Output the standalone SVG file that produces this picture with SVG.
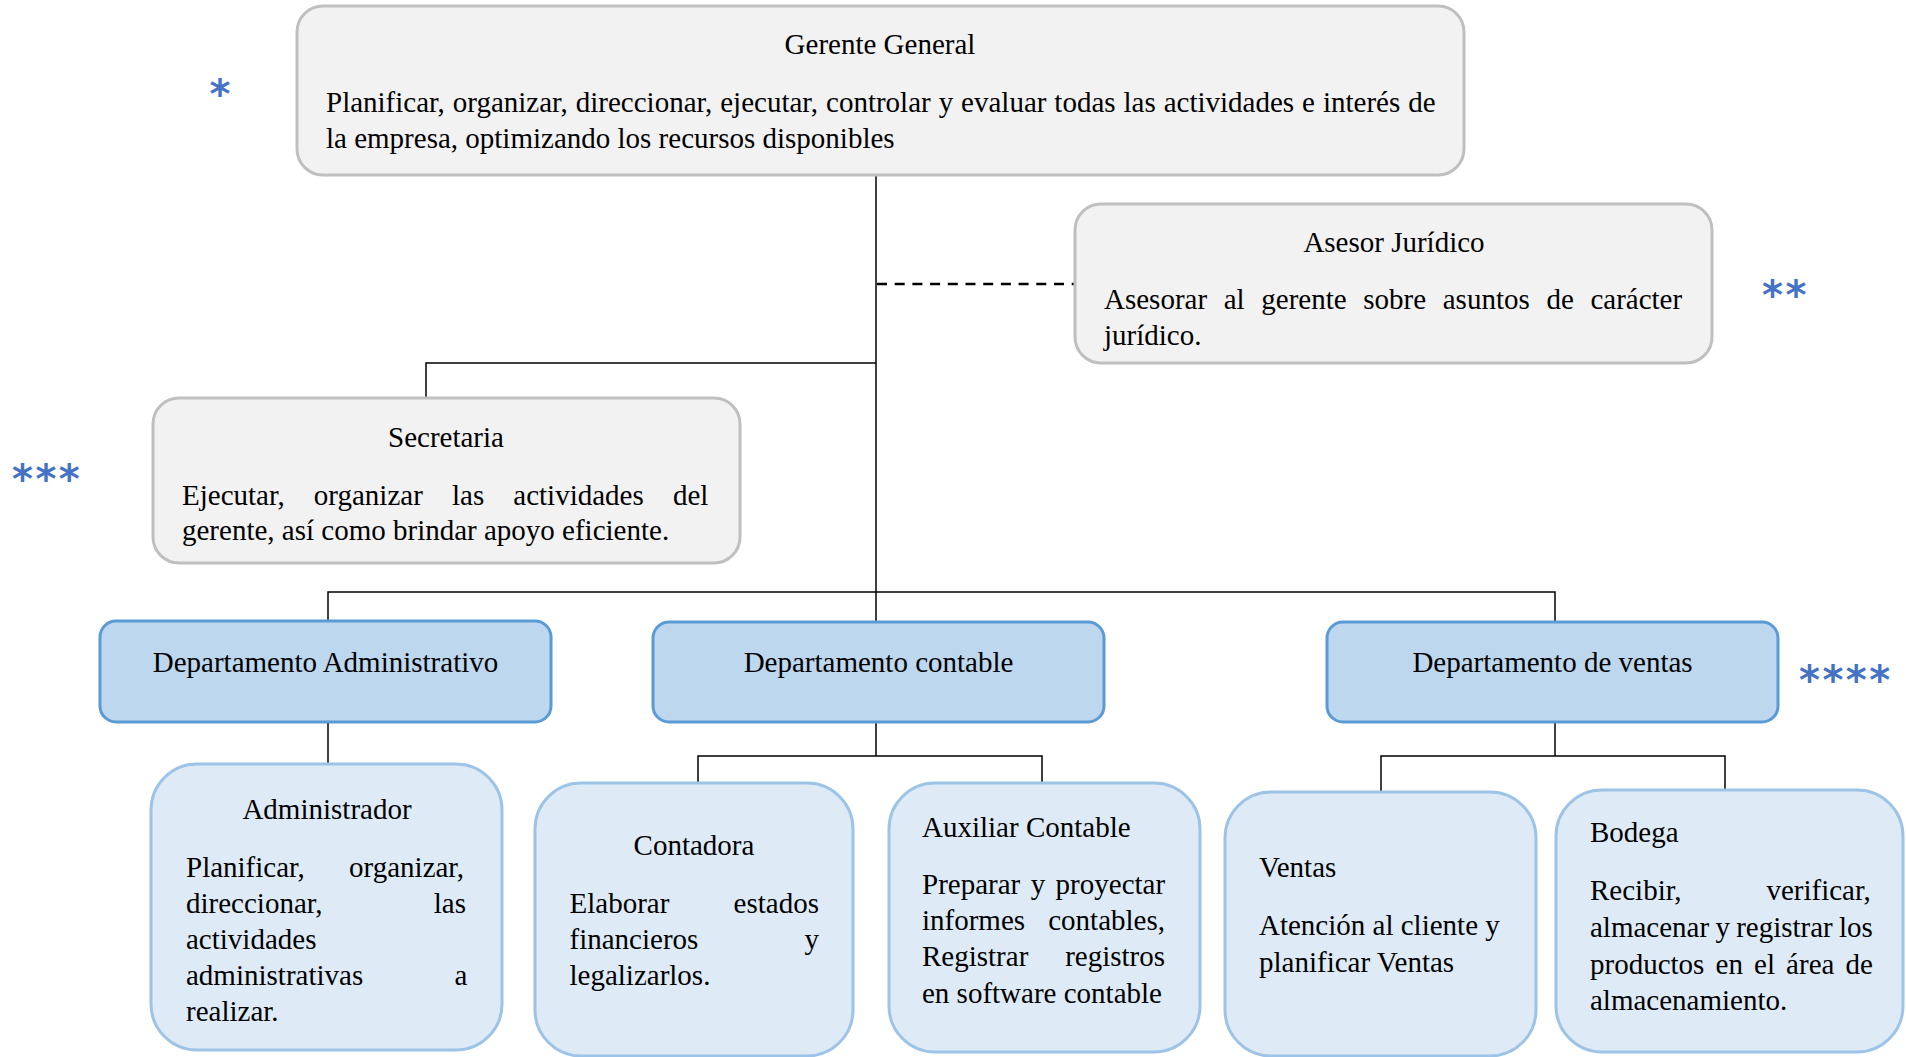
<svg xmlns="http://www.w3.org/2000/svg" width="1906" height="1057" viewBox="0 0 1906 1057">
<style>
text{font-family:"Liberation Serif","Times New Roman",serif;font-size:29px;fill:#000}
.c{text-anchor:middle}
.gray{fill:#F2F2F2;stroke:#BFBFBF;stroke-width:3}
.dept{fill:#BDD7EE;stroke:#5B9BD5;stroke-width:3}
.child{fill:#DEEBF7;stroke:#9DC3E6;stroke-width:3}
.ln{fill:none;stroke:#000;stroke-width:1.5}
.dash{fill:none;stroke:#000;stroke-width:2.5;stroke-dasharray:10 7.7}
.star{font-family:"DejaVu Sans",sans-serif;font-size:40px;font-weight:bold;fill:#4472C4;letter-spacing:2.5px}
</style>
<rect width="1906" height="1057" fill="#fff"/>
<g id="connectors">
<path class="ln" d="M876 175 V622"/>
<path class="ln" d="M876 363 H426 V398"/>
<path class="dash" d="M877 284 H1074"/>
<path class="ln" d="M328 621 V592 H1555 V622"/>
<path class="ln" d="M328 722 V764"/>
<path class="ln" d="M876 722 V756"/>
<path class="ln" d="M698 783 V756 H1042 V783"/>
<path class="ln" d="M1555 722 V756"/>
<path class="ln" d="M1381 792 V756 H1725 V790"/>
</g>
<g id="gerente">
<rect class="gray" x="297" y="6" width="1167" height="169" rx="26"/>
<text class="c" x="880" y="54">Gerente General</text>
<text x="326" y="112" style="word-spacing:0.7px">Planificar, organizar, direccionar, ejecutar, controlar y evaluar todas las actividades e interés de</text>
<text x="326" y="148">la empresa, optimizando los recursos disponibles</text>
</g>
<g id="asesor">
<rect class="gray" x="1075" y="204" width="637" height="159" rx="26"/>
<text class="c" x="1394" y="252">Asesor Jurídico</text>
<text x="1104" y="309" style="word-spacing:9.4px">Asesorar al gerente sobre asuntos de carácter</text>
<text x="1104" y="345">jurídico.</text>
</g>
<g id="secretaria">
<rect class="gray" x="153" y="398" width="587" height="165" rx="26"/>
<text class="c" x="446" y="447">Secretaria</text>
<text x="182" y="505" style="word-spacing:21.9px">Ejecutar, organizar las actividades del</text>
<text x="182" y="540">gerente, así como brindar apoyo eficiente.</text>
</g>
<g id="dept-admin">
<rect class="dept" x="100" y="621" width="451" height="101" rx="16"/>
<text class="c" x="325.5" y="672">Departamento Administrativo</text>
</g>
<g id="dept-contable">
<rect class="dept" x="653" y="622" width="451" height="100" rx="16"/>
<text class="c" x="878.5" y="672">Departamento contable</text>
</g>
<g id="dept-ventas">
<rect class="dept" x="1327" y="622" width="451" height="100" rx="16"/>
<text class="c" x="1552.5" y="672">Departamento de ventas</text>
</g>
<g id="administrador">
<rect class="child" x="151" y="764" width="351" height="286" rx="46"/>
<text class="c" x="327" y="819">Administrador</text>
<text x="186" y="877" style="word-spacing:37px">Planificar, organizar,</text>
<text x="186" y="913" style="word-spacing:104px">direccionar, las</text>
<text x="186" y="949">actividades</text>
<text x="186" y="985" style="word-spacing:84px">administrativas a</text>
<text x="186" y="1021">realizar.</text>
</g>
<g id="contadora">
<rect class="child" x="535" y="783" width="318" height="273" rx="46"/>
<text class="c" x="694" y="855">Contadora</text>
<text x="569.5" y="913" style="word-spacing:57px">Elaborar estados</text>
<text x="569.5" y="949" style="word-spacing:99px">financieros y</text>
<text x="569.5" y="985">legalizarlos.</text>
</g>
<g id="auxiliar">
<rect class="child" x="889" y="783" width="311" height="269" rx="46"/>
<text x="922" y="837">Auxiliar Contable</text>
<text x="922" y="894" style="word-spacing:3.2px">Preparar y proyectar</text>
<text x="922" y="930" style="word-spacing:15.9px">informes contables,</text>
<text x="922" y="966" style="word-spacing:29.6px">Registrar registros</text>
<text x="922" y="1003">en software contable</text>
</g>
<g id="ventas">
<rect class="child" x="1225" y="792" width="311" height="264" rx="46"/>
<text x="1259" y="877">Ventas</text>
<text x="1259" y="935">Atención al cliente y</text>
<text x="1259" y="972">planificar Ventas</text>
</g>
<g id="bodega">
<rect class="child" x="1556" y="790" width="347" height="262" rx="46"/>
<text x="1590" y="842">Bodega</text>
<text x="1590" y="900" style="word-spacing:77.7px">Recibir, verificar,</text>
<text x="1590" y="937" style="word-spacing:-1px">almacenar y registrar los</text>
<text x="1590" y="974" style="word-spacing:3.9px">productos en el área de</text>
<text x="1590" y="1010">almacenamiento.</text>
</g>
<g id="stars">
<text class="star" x="209.5" y="108">*</text>
<text class="star" x="1762" y="309">**</text>
<text class="star" x="12" y="493">***</text>
<text class="star" x="1799" y="694">****</text>
</g>
</svg>
